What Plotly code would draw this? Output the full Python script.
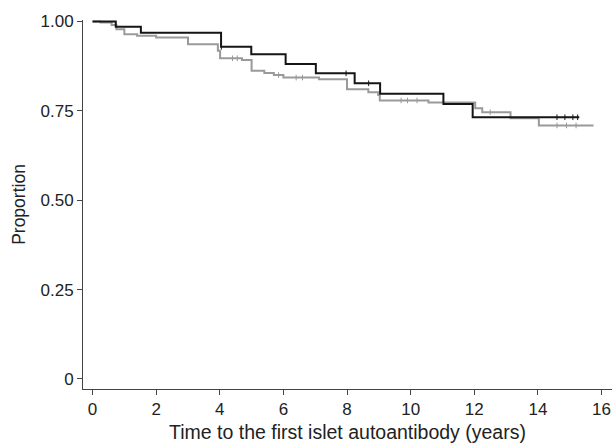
import plotly.graph_objects as go
import numpy as np

# Kaplan-Meier step data (time in years, proportion free of islet autoantibody)
black_t = [0, 0.73, 1.52, 4.04, 4.99, 6.07, 7.02, 8.24, 9.04, 11.03, 11.95, 15.3]
black_s = [1.00, 0.985, 0.968, 0.929, 0.908, 0.881, 0.855, 0.827, 0.798, 0.769, 0.732, 0.732]

gray_t = [0, 0.25, 0.6, 0.75, 1.0, 1.4, 2.0, 3.0, 3.94, 4.01, 4.7, 5.0, 5.4, 5.7, 6.0,
          7.12, 8.0, 8.67, 8.98, 9.03, 10.56, 12.03, 12.25, 13.14, 14.03, 15.75]
gray_s = [1.00, 0.997, 0.99, 0.978, 0.964, 0.960, 0.955, 0.936, 0.918, 0.897, 0.892, 0.862,
          0.856, 0.850, 0.843, 0.838, 0.810, 0.802, 0.794, 0.779, 0.773, 0.757, 0.746,
          0.729, 0.709, 0.709]

black_censor = [4.05, 7.97, 8.68, 14.6, 14.85, 15.1, 15.25]
gray_censor = [4.4, 4.55, 5.85, 6.4, 6.6, 9.7, 9.9, 10.2, 12.5, 14.6, 14.9, 15.2]

x_ticks = [0, 2, 4, 6, 8, 10, 12, 14, 16]
y_ticks = [0, 0.25, 0.5, 0.75, 1.0]
y_ticktext = ["0", "0.25", "0.50", "0.75", "1.00"]

BLACK = "#151515"
GRAY = "#9a9a9a"


def step_value(t_list, s_list, t):
    idx = np.searchsorted(np.array(t_list), t, side="right") - 1
    return s_list[max(idx, 0)]


fig = go.Figure()
fig.add_trace(go.Scatter(x=gray_t, y=gray_s, mode="lines", line=dict(shape="hv", color=GRAY, width=2),
                         showlegend=False, hoverinfo="skip"))
fig.add_trace(go.Scatter(x=gray_censor, y=[step_value(gray_t, gray_s, t) for t in gray_censor],
                         mode="markers", marker=dict(symbol="line-ns", size=4, line=dict(color=GRAY, width=1)),
                         showlegend=False, hoverinfo="skip"))
fig.add_trace(go.Scatter(x=black_t, y=black_s, mode="lines", line=dict(shape="hv", color=BLACK, width=2),
                         showlegend=False, hoverinfo="skip"))
fig.add_trace(go.Scatter(x=black_censor, y=[step_value(black_t, black_s, t) for t in black_censor],
                         mode="markers", marker=dict(symbol="line-ns", size=4, line=dict(color=BLACK, width=1)),
                         showlegend=False, hoverinfo="skip"))

FONT = "Liberation Sans, Arial, Helvetica, sans-serif"

fig.update_layout(
    width=614, height=444,
    margin=dict(l=83, r=2, t=20, b=55),
    paper_bgcolor="white", plot_bgcolor="white",
    font=dict(family=FONT, color="#222222", size=17),
    xaxis=dict(range=[-0.30, 16.33], tickvals=x_ticks, ticktext=[str(v) for v in x_ticks],
               showline=True, linecolor="#444444", linewidth=1, ticks="outside", ticklen=5,
               tickcolor="#444444", showgrid=False, zeroline=False,
               tickfont=dict(size=17),
               title=dict(text="Time to the first islet autoantibody (years)", font=dict(size=19.5), standoff=6)),
    yaxis=dict(range=[-0.028, 1.004], tickvals=y_ticks, ticktext=y_ticktext,
               showline=True, linecolor="#444444", linewidth=1, ticks="outside", ticklen=5,
               tickcolor="#444444", showgrid=False, zeroline=False,
               tickfont=dict(size=17),
               title=dict(text="Proportion", font=dict(size=17.5), standoff=10)),
)

fig.write_html("out.html", config={"displayModeBar": False},
               post_script="document.body.style.margin='0';document.body.style.overflow='hidden';")
